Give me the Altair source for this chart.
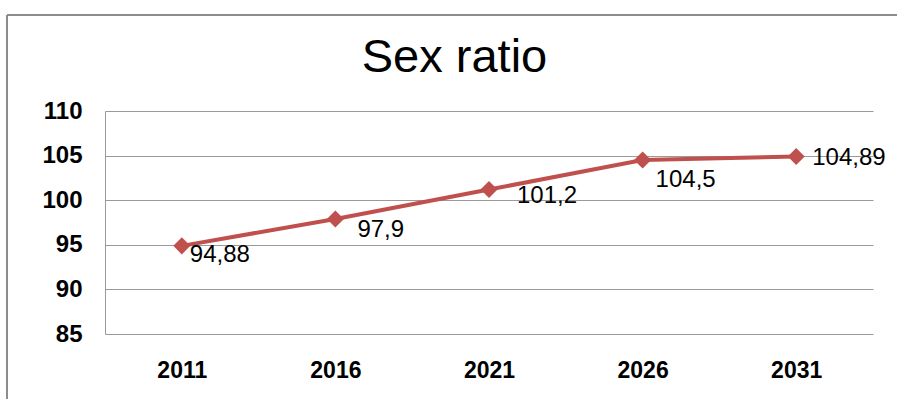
import altair as alt
import pandas as pd

years = ["2011", "2016", "2021", "2026", "2031"]
values = [94.88, 97.9, 101.2, 104.5, 104.89]
labels = ["94,88", "97,9", "101,2", "104,5", "104,89"]
title_text = "Sex ratio"

df = pd.DataFrame({"year": years, "value": values, "label": labels})

FONT = "Liberation Sans"
RED = "#C0504D"
GRID = "#9a9a9a"

x_enc = alt.X("year:N", sort=years, title=None,
              axis=alt.Axis(labelAngle=0, ticks=False, domain=False,
                            labelFont=FONT, labelFontSize=23, labelFontWeight="bold",
                            labelColor="#000", labelPadding=25))
y_enc = alt.Y("value:Q", title=None,
              scale=alt.Scale(domain=[85, 110], nice=False, zero=False),
              axis=alt.Axis(values=[85, 90, 95, 100, 105, 110], ticks=False,
                            grid=True, gridColor=GRID, gridWidth=1,
                            domain=True, domainColor=GRID, domainWidth=1,
                            labelFont=FONT, labelFontSize=24, labelFontWeight="bold",
                            labelColor="#000", labelPadding=23))

base = alt.Chart(df)

line = base.mark_line(color=RED, strokeWidth=4).encode(x=x_enc, y=y_enc)
points = base.mark_point(shape="diamond", filled=True, size=290, color=RED, opacity=1).encode(x=x_enc, y=y_enc)

# label offsets (dx, dy) relative to each point, as placed in the original
offsets = {"2011": (8, 9), "2016": (22, 11), "2021": (28, 7), "2026": (13, 20), "2031": (16, 1)}
text_layers = []
for yr, (dx, dy) in offsets.items():
    text_layers.append(
        base.transform_filter(alt.datum.year == yr).mark_text(
            align="left", baseline="middle", dx=dx, dy=dy,
            font=FONT, fontSize=24, color="#000"
        ).encode(x=x_enc, y=y_enc, text="label:N")
    )

title = alt.Chart(pd.DataFrame({"t": [title_text]})).mark_text(
    font=FONT, fontSize=47, color="#000", align="center", baseline="middle"
).encode(x=alt.value(349.5), y=alt.value(-53), text="t:N")

frame_top = alt.Chart(pd.DataFrame({"a": [0]})).mark_rule(color="#8c8c8c", strokeWidth=2).encode(
    x=alt.value(-98), x2=alt.value(800), y=alt.value(-96))
frame_left = alt.Chart(pd.DataFrame({"a": [0]})).mark_rule(color="#8c8c8c", strokeWidth=2).encode(
    x=alt.value(-98), y=alt.value(-96), y2=alt.value(300))

chart = alt.layer(line, points, *text_layers, title, frame_top, frame_left).properties(
    width=768, height=223,
    autosize=alt.AutoSizeParams(type="none"),
    padding={"left": 105, "top": 111, "right": 24, "bottom": 65},
    background="white",
).configure_view(stroke=None)

chart.save("out.html", embed_options={"renderer": "svg", "actions": False})
